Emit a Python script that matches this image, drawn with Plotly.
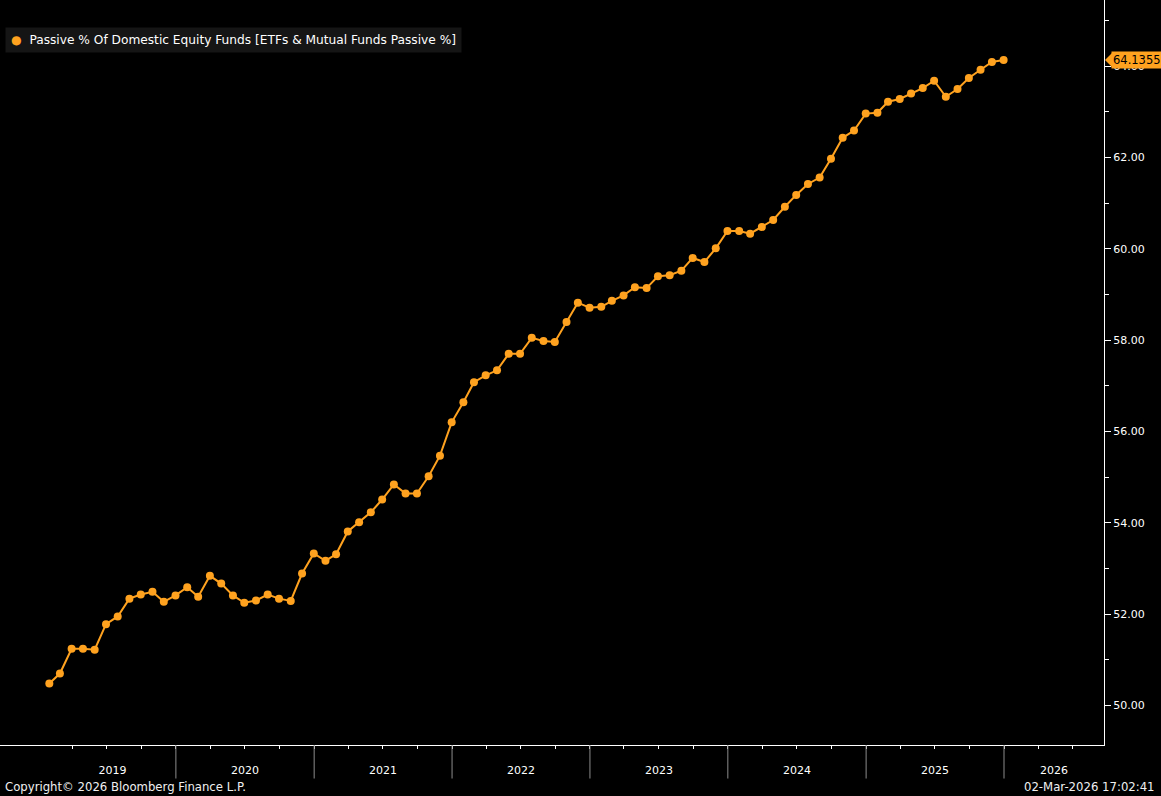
import pandas as pd
import plotly.graph_objects as go

# ---- data (monthly, month-end) ----
start_month = "2019-01-31"
values = [
    50.48, 50.70, 51.24, 51.24, 51.22, 51.78, 51.95, 52.34, 52.43, 52.49, 52.27, 52.41,
    52.59, 52.38, 52.84, 52.67, 52.41, 52.25, 52.30, 52.43, 52.34, 52.29, 52.89, 53.33,
    53.17, 53.31, 53.81, 54.01, 54.23, 54.51, 54.84, 54.64, 54.64, 55.02, 55.47, 56.20,
    56.64, 57.08, 57.23, 57.34, 57.70, 57.70, 58.05, 57.98, 57.96, 58.40, 58.82, 58.71,
    58.73, 58.86, 58.98, 59.16, 59.14, 59.40, 59.42, 59.52, 59.80, 59.71, 60.01, 60.39,
    60.39, 60.33, 60.48, 60.63, 60.92, 61.18, 61.42, 61.56, 61.97, 62.43, 62.59, 62.96,
    62.98, 63.22, 63.28, 63.40, 63.52, 63.68, 63.33, 63.50, 63.74, 63.92, 64.09, 64.1355,
]
dates = pd.date_range(start_month, periods=len(values), freq=pd.offsets.MonthEnd())
years = [2019, 2020, 2021, 2022, 2023, 2024, 2025, 2026]
series_name = "Passive % Of Domestic Equity Funds [ETFs & Mutual Funds Passive %]"
x_range = [pd.Timestamp("2018-09-22 10:00"), pd.Timestamp("2026-09-22 17:00")]
y_range = [49.135, 65.448]

ORANGE = "#FFA21F"
FONT = "DejaVu Sans"

fig = go.Figure()
fig.add_trace(go.Scatter(
    x=dates, y=values, mode="lines+markers", name=series_name,
    line=dict(color=ORANGE, width=2),
    marker=dict(color=ORANGE, size=8),
    showlegend=False,
))

# year label positions: centre of visible portion of each year
tickvals, ticktext = [], []
for yr in years:
    s = max(pd.Timestamp(f"{yr}-01-01"), dates[0])
    e = min(pd.Timestamp(f"{yr + 1}-01-01"), x_range[1])
    tickvals.append(s + (e - s) / 2)
    ticktext.append(str(yr))

quarters = [q for q in pd.date_range("2019-04-01", "2026-09-01", freq="QS")]

shapes = []
for yr in years[1:]:
    shapes.append(dict(type="line", xref="x", yref="paper",
                       x0=pd.Timestamp(f"{yr}-01-01"), x1=pd.Timestamp(f"{yr}-01-01"),
                       y0=0, y1=-0.045, line=dict(color="#8c8c8c", width=1)))
# notch of last-value tag
shapes.append(dict(type="path", xref="paper", yref="y", xsizemode="pixel", ysizemode="pixel",
                   xanchor=1, yanchor=values[-1],
                   path="M 1,0 L 8,7 L 8,-7 Z", fillcolor=ORANGE, line=dict(width=0)))

annotations = [
    dict(xref="paper", yref="paper", x=0, y=1, xshift=5, yshift=-27,
         xanchor="left", yanchor="top", showarrow=False, align="left",
         text=f"<span style='color:{ORANGE}'>●</span>  {series_name}",
         font=dict(family=FONT, size=12.2, color="#ffffff"),
         bgcolor="#151515", borderpad=5),
    dict(xref="paper", yref="y", x=1, y=values[-1], xshift=7, xanchor="left",
         yanchor="middle", showarrow=False, text=f"{values[-1]:.4f}",
         font=dict(family=FONT, size=11.5, color="#000000"),
         bgcolor=ORANGE, borderpad=1),
    dict(xref="paper", yref="paper", x=0, y=0, xshift=3, yshift=-42,
         xanchor="left", yanchor="middle", showarrow=False,
         text="Copyright© 2026 Bloomberg Finance L.P.",
         font=dict(family=FONT, size=11.7, color="#f0f0f0")),
    dict(xref="paper", yref="paper", x=1, y=0, xshift=53, yshift=-42,
         xanchor="right", yanchor="middle", showarrow=False,
         text="02-Mar-2026 17:02:41",
         font=dict(family=FONT, size=11.7, color="#f0f0f0")),
]

fig.update_layout(
    width=1161, height=796,
    margin=dict(l=0, r=57, t=0, b=51),
    paper_bgcolor="#000000", plot_bgcolor="#000000",
    font=dict(family=FONT, size=11, color="#ffffff"),
    shapes=shapes, annotations=annotations,
    xaxis=dict(
        type="date", range=x_range, showgrid=False, zeroline=False,
        showline=True, linecolor="#ffffff", linewidth=1,
        tickmode="array", tickvals=tickvals, ticktext=ticktext, ticks="",
        ticklabelstandoff=15,
        tickfont=dict(family=FONT, size=11, color="#ffffff"),
        minor=dict(tickmode="array", tickvals=quarters, ticks="outside",
                   ticklen=3, tickcolor="#ffffff", tickwidth=1, showgrid=False),
    ),
    yaxis=dict(
        side="right", range=y_range, showgrid=False, zeroline=False,
        showline=True, linecolor="#ffffff", linewidth=1,
        dtick=2, tick0=50, tickformat=".2f", ticks="outside", ticklen=6,
        tickcolor="#ffffff", tickwidth=1,
        tickfont=dict(family=FONT, size=11, color="#ffffff"),
        minor=dict(dtick=1, tick0=49, ticks="outside", ticklen=4,
                   tickcolor="#ffffff", showgrid=False),
    ),
)

fig.write_html("out.html", config={"displayModeBar": False},
               post_script="document.body.style.margin='0';document.body.style.background='#000';")
